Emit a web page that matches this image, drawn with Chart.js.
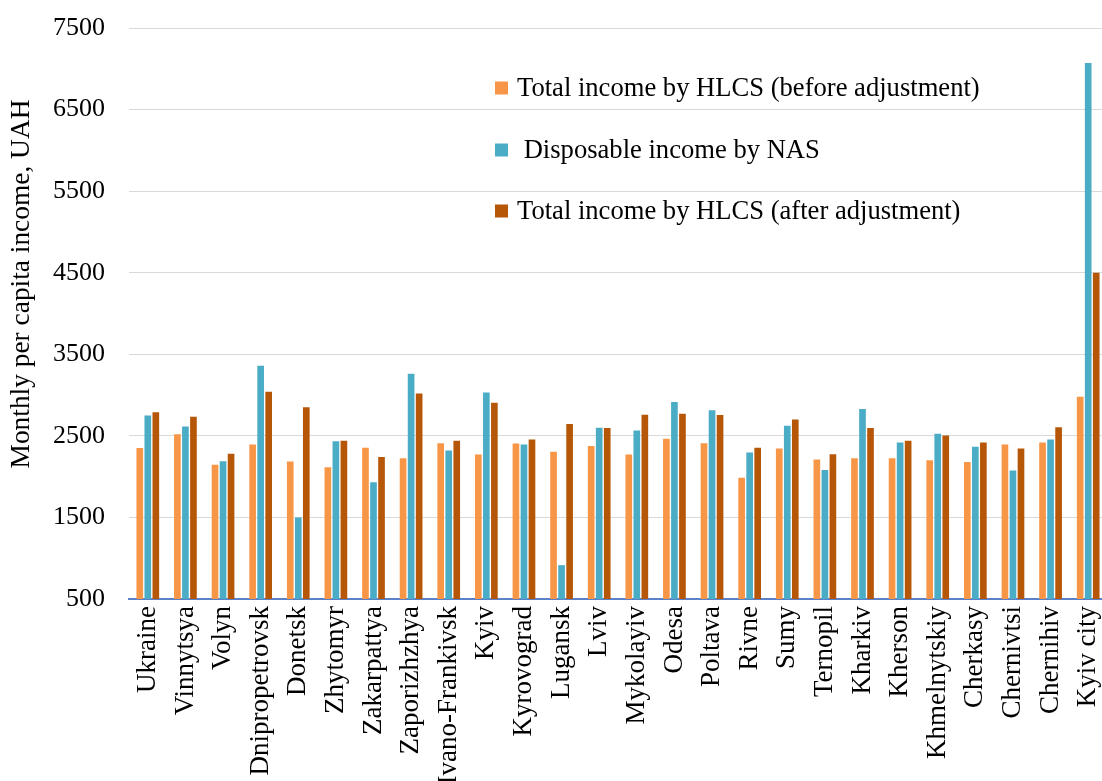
<!DOCTYPE html>
<html>
<head>
<meta charset="utf-8">
<title>Monthly per capita income by region</title>
<script src="https://cdn.jsdelivr.net/npm/chart.js@4/dist/chart.umd.min.js"></script>
<style>
  html, body { margin: 0; padding: 0; background: #ffffff; overflow: hidden; }
  #wrap { position: relative; width: 1102px; height: 781px; overflow: hidden; }
  canvas { display: block; }
</style>
</head>
<body>
<div id="wrap"><canvas id="chart" width="1110" height="781"></canvas></div>
<script>
// Regions (x-axis categories)
const regions = ['Ukraine', 'Vinnytsya', 'Volyn', 'Dnipropetrovsk', 'Donetsk', 'Zhytomyr',
  'Zakarpattya', 'Zaporizhzhya', 'Ivano-Frankivsk', 'Kyiv', 'Kyrovograd', 'Lugansk', 'Lviv',
  'Mykolayiv', 'Odesa', 'Poltava', 'Rivne', 'Sumy', 'Ternopil', 'Kharkiv', 'Kherson',
  'Khmelnytskiy', 'Cherkasy', 'Chernivtsi', 'Chernihiv', 'Kyiv city'];

// Monthly per capita income, UAH
const hlcsBefore = [2350, 2520, 2145, 2395, 2185, 2115, 2355, 2225, 2410, 2270, 2405, 2305, 2375,
  2270, 2465, 2410, 1985, 2345, 2210, 2225, 2225, 2200, 2180, 2395, 2420, 2980];
const nasDisposable = [2750, 2615, 2190, 3360, 1500, 2435, 1930, 3260, 2320, 3030, 2395, 915, 2600,
  2565, 2915, 2815, 2295, 2625, 2080, 2830, 2420, 2525, 2365, 2075, 2455, 7070];
const hlcsAfter = [2790, 2735, 2280, 3040, 2850, 2440, 2240, 3020, 2440, 2905, 2455, 2645, 2595,
  2760, 2770, 2755, 2355, 2700, 2275, 2595, 2440, 2505, 2420, 2345, 2605, 4500];

// Y-axis ticks
const yMin = 500, yMax = 7500, yStep = 1000;

const seriesLabels = ['Total income by HLCS (before adjustment)', ' Disposable income by NAS',
  'Total income by HLCS (after adjustment)'];
const seriesColors = ['#F79646', '#4BACC6', '#B65708'];

const FONT = "'Liberation Serif', 'Times New Roman', serif";

// Legend drawn inside the plot area, stacked in three rows
const innerLegend = {
  id: 'innerLegend',
  afterDraw(chart) {
    const ctx = chart.ctx;
    ctx.save();
    ctx.font = '26.6px ' + FONT;
    ctx.textBaseline = 'middle';
    ctx.textAlign = 'left';
    const rows = [88, 150, 211];
    chart.data.datasets.forEach((ds, i) => {
      ctx.fillStyle = ds.backgroundColor;
      ctx.fillRect(495, rows[i] - 6.5, 13, 13);
      ctx.fillStyle = '#000000';
      ctx.fillText(ds.label, 517, rows[i] + 1);
    });
    ctx.restore();
  }
};

// Vertical axis title
const yTitle = {
  id: 'yTitle',
  afterDraw(chart) {
    const ctx = chart.ctx;
    ctx.save();
    ctx.font = '27.4px ' + FONT;
    ctx.fillStyle = '#000000';
    ctx.textAlign = 'center';
    ctx.textBaseline = 'middle';
    ctx.translate(22, 284);
    ctx.rotate(-Math.PI / 2);
    ctx.fillText('Monthly per capita income, UAH', 0, 0);
    ctx.restore();
  }
};

new Chart(document.getElementById('chart'), {
  type: 'bar',
  data: {
    labels: regions,
    datasets: [
      { label: seriesLabels[0], data: hlcsBefore, backgroundColor: seriesColors[0] },
      { label: seriesLabels[1], data: nasDisposable, backgroundColor: seriesColors[1] },
      { label: seriesLabels[2], data: hlcsAfter, backgroundColor: seriesColors[2] }
    ]
  },
  options: {
    responsive: false,
    animation: false,
    devicePixelRatio: 1,
    layout: { padding: { left: 0, right: 3, top: 28, bottom: 0 } },
    datasets: {
      bar: { categoryPercentage: 0.64, barPercentage: 0.83, borderWidth: 0 }
    },
    plugins: {
      legend: { display: false },
      tooltip: { enabled: false },
      title: { display: false }
    },
    scales: {
      x: {
        grid: { display: false, drawTicks: false },
        border: { display: true, color: '#5B82C8', width: 2 },
        ticks: {
          autoSkip: false,
          minRotation: 90,
          maxRotation: 90,
          padding: 7,
          color: '#000000',
          font: { family: FONT, size: 27 }
        },
        afterFit(scale) {
          scale.height = 182;
          scale.paddingLeft = 0;
          scale.paddingRight = 0;
        }
      },
      y: {
        min: yMin,
        max: yMax,
        grid: { color: '#D9D9D9', lineWidth: 1, drawTicks: false },
        border: { display: false },
        ticks: {
          stepSize: yStep,
          padding: 24,
          color: '#000000',
          font: { family: FONT, size: 26 },
          callback: (value) => String(value)
        },
        afterFit(scale) {
          scale.width = 129;
          scale.paddingTop = 0;
          scale.paddingBottom = 0;
        }
      }
    }
  },
  plugins: [innerLegend, yTitle]
});
</script>
</body>
</html>
